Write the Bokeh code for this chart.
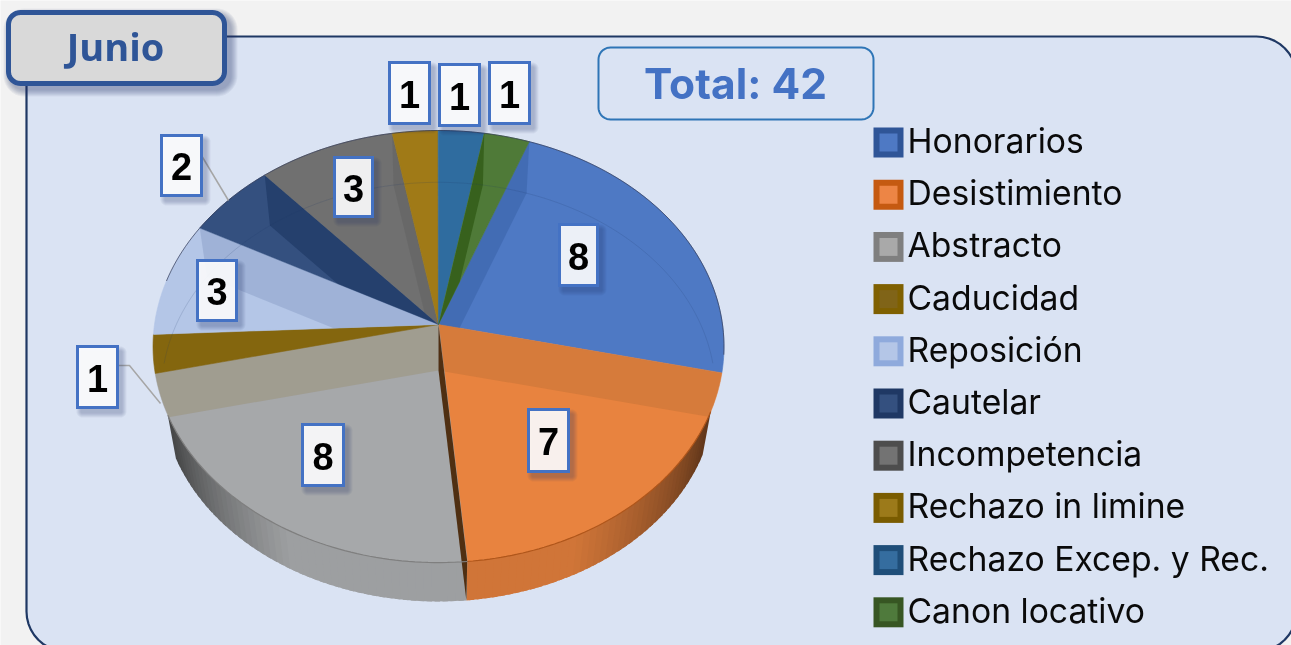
import math
from bokeh.plotting import figure
from bokeh.embed import file_html
from bokeh.resources import INLINE
from bokeh.core.properties import value

# ---- data ----
title = "Junio"
total_label = "Total: 42"
categories = ["Honorarios", "Desistimiento", "Abstracto", "Caducidad", "Reposición",
              "Cautelar", "Incompetencia", "Rechazo in limine", "Rechazo Excep. y Rec.", "Canon locativo"]
values = [8, 7, 8, 1, 3, 2, 3, 1, 1, 1]

# ---- styles ----
top_colors = ["#4e79c4", "#e8833f", "#a6a8aa", "#856610", "#b4c6e7",
              "#34507f", "#707070", "#a07a17", "#2f6c9f", "#4f7a38"]
legend_outer = ["#2f5597", "#c55a11", "#7f7f7f", "#7f6000", "#8faadc",
                "#1f3864", "#4d4d4d", "#7a5c00", "#1f4e79", "#375623"]
legend_inner = ["#4e79c4", "#ed8545", "#a9a9a9", "#806418", "#b4c6e7",
                "#34507f", "#737373", "#9c7a1a", "#356d9f", "#4f7a3c"]
band_color = ["#2f5597", "#a0622e", "#4f2f12", "#7f6000", "#7f6000",
              "#7f93bd", "#16305c", "#4d4d4d", "#1f4e79", "#2f5a14"]
band_alpha = [0.35, 0.25, 1.0, 0.15, 0.08, 0.38, 0.5, 0.2, 0.2, 0.75]
label_boxes = [(559, 224, 597, 285), (528, 409, 568, 471), (302, 424, 343, 485), (77, 346, 117, 407),
               (197, 260, 236, 320), (161, 135, 201, 195), (334, 157, 372, 216),
               (389, 62, 429, 123), (439, 64, 479, 125), (489, 62, 529, 123)]

W, H = 1291, 645
p = figure(width=W, height=H, x_range=(0, W), y_range=(H, 0), toolbar_location=None,
           output_backend="svg", min_border=0, outline_line_color=None,
           background_fill_color="#f2f2f2", border_fill_color="#f2f2f2")
p.axis.visible = False
p.grid.visible = False
p.styles = {"position": "fixed", "left": "0", "top": "0"}


def rounded(x0, y0, x1, y1, r, n=10):
    xs, ys = [], []
    corners = [(x1 - r, y0 + r, -90), (x1 - r, y1 - r, 0), (x0 + r, y1 - r, 90), (x0 + r, y0 + r, 180)]
    for cx, cy, st in corners:
        for i in range(n + 1):
            t = math.radians(st + 90 * i / n)
            xs.append(cx + r * math.cos(t))
            ys.append(cy + r * math.sin(t))
    return xs, ys


def shadow(x0, y0, x1, y1, r, dx=4, dy=5, spread=6, alpha=0.05):
    for s in range(spread, 0, -1):
        xs, ys = rounded(x0 + dx - s, y0 + dy - s, x1 + dx + s, y1 + dy + s, r + s)
        p.patch(xs, ys, fill_color="#1f3864", fill_alpha=alpha, line_color=None)


def clip(poly, region):
    """Clip polygon to a convex region (Sutherland-Hodgman)."""
    area = sum(region[i][0] * region[(i + 1) % len(region)][1] - region[(i + 1) % len(region)][0] * region[i][1]
               for i in range(len(region)))
    sign = 1 if area > 0 else -1
    out = poly
    for i in range(len(region)):
        ax, ay = region[i]
        bx, by = region[(i + 1) % len(region)]
        if abs(ax - bx) + abs(ay - by) < 1e-9:
            continue
        side = lambda q: sign * ((bx - ax) * (q[1] - ay) - (by - ay) * (q[0] - ax))
        res = []
        for j in range(len(out)):
            c, d = out[j], out[(j + 1) % len(out)]
            sc, sd = side(c), side(d)
            if sc >= 0:
                res.append(c)
            if sc * sd < 0:
                f = sc / (sc - sd)
                res.append((c[0] + (d[0] - c[0]) * f, c[1] + (d[1] - c[1]) * f))
        out = res
        if not out:
            break
    return out


# panel
xs, ys = rounded(26, 36, 1296, 651, 40)
p.patch(xs, ys, fill_color="#dae3f3", line_color="#1f3864", line_width=2.2)

# tab
shadow(6, 11, 226, 85, 14, dx=4, dy=4, spread=7, alpha=0.06)
xs, ys = rounded(8, 12, 224, 83, 12)
p.patch(xs, ys, fill_color="#d9d9d9", line_color="#2f5597", line_width=5)
p.text([115], [45], text=[title], text_font=value("Open Sans"), text_font_style="bold", text_font_size="38px",
       text_color="#2f5597", text_align="center", text_baseline="middle")

# total box
xs, ys = rounded(598, 47, 873, 119, 12)
p.patch(xs, ys, fill_color=None, line_color="#2e75b6", line_width=2)
p.text([735], [83], text=[total_label], text_font=value("Inter"), text_font_style="bold", text_font_size="42.5px",
       text_color="#4472c4", text_align="center", text_baseline="middle")

# pie geometry (perspective ellipse about apex)
APX, APY = 438, 324
A, B, K = 284.0, 213.8, 0.102
DEPTH, SHRINK = 46.0, 0.97
START = 20.5


def proj(deg, bottom=False):
    t = math.radians(deg)
    u, v = math.sin(t), math.cos(t)
    w = 1 + K * v
    s = SHRINK if bottom else 1.0
    d = DEPTH if bottom else 0.0
    return APX + s * A * u / w, APY + d - s * B * v / w


def shade(col, f):
    r, g, b = (int(col[i:i + 2], 16) for i in (1, 3, 5))
    return "#%02x%02x%02x" % (min(255, int(r * f)), min(255, int(g * f)), min(255, int(b * f)))


tot = sum(values)
edges = [START]
for val in values:
    edges.append(edges[-1] + 360.0 * val / tot)

# top faces
faces = []
for i in range(len(values)):
    a0, a1 = edges[i], edges[i + 1]
    n = max(4, int(a1 - a0))
    pts = [proj(a0 + (a1 - a0) * j / n) for j in range(n + 1)]
    faces.append([(APX, APY)] + pts)
    p.patch([APX] + [q[0] for q in pts], [APY] + [q[1] for q in pts],
            fill_color=top_colors[i], line_color=top_colors[i], line_width=0.6)

# radial walls seen through the faces, each one inside the face it falls on
front = []
for k in range(len(values)):
    a = edges[k] % 360
    if 150 < a < 210:
        front.append(k)
        continue
    t = proj(a)
    b = proj(a, True)
    owner = k if a < 180 else (k - 1) % len(values)
    quad = clip([(APX, APY), t, b, (APX, APY + DEPTH)], faces[owner])
    if quad:
        p.patch([q[0] for q in quad], [q[1] for q in quad],
                fill_color=band_color[k], fill_alpha=band_alpha[k], line_color=None)

# back of the lower rim, seen through
back = [proj(-88 + j * 176 / 120, True) for j in range(121)]
p.line([q[0] for q in back], [q[1] for q in back], line_color="#1f3864", line_alpha=0.2, line_width=0.8)

# side wall
WALL0, WALL1 = 113.0, 246.0
for i in (1, 2):
    a0 = max(edges[i], WALL0)
    a1 = min(edges[i + 1], WALL1)
    n = int((a1 - a0) / 1.5) + 1
    for j in range(n - 1, -1, -1) if i == 1 else range(n):
        b0 = a0 + (a1 - a0) * j / n
        b1 = a0 + (a1 - a0) * (j + 1) / n
        mid = (b0 + b1) / 2
        if i == 1:
            f = 0.42 + 0.48 * min(1, (mid - WALL0) / 40)
            b1 = min(b1 + 1.0, a1)
        else:
            f = 0.42 + 0.53 * min(1, (WALL1 - mid) / 36)
            b0 = max(b0 - 1.0, a0)
        c = shade(top_colors[i], f)
        t0, t1, u1, u0 = proj(b0), proj(b1), proj(b1, True), proj(b0, True)
        p.patch([t0[0], t1[0], u1[0], u0[0]], [t0[1], t1[1], u1[1], u0[1]],
                fill_color=c, line_color=None)

# front radial wall
for k in front:
    a = edges[k]
    t, b = proj(a), proj(a, True)
    p.patch([APX, t[0], b[0], APX], [APY, t[1], b[1], APY + DEPTH],
            fill_color=band_color[k], fill_alpha=band_alpha[k], line_color=None)

# rims
arc = [proj(-78 + j * 176 / 120) for j in range(121)]
p.line([q[0] for q in arc], [q[1] for q in arc], line_color="#333a55", line_alpha=0.7, line_width=1)
arc = [proj(WALL0 + j * (edges[2] - WALL0) / 60) for j in range(61)]
p.line([q[0] for q in arc], [q[1] for q in arc], line_color="#b0561a", line_width=1.2)
arc = [proj(edges[2] + j * (WALL1 - edges[2]) / 60) for j in range(61)]
p.line([q[0] for q in arc], [q[1] for q in arc], line_color="#7f7f7f", line_width=1.2)

# leader lines
p.line([201, 228], [155, 200], line_color="#a6a6a6", line_width=1.5)
p.line([117, 129, 160], [365, 365, 403], line_color="#a6a6a6", line_width=1.5)

# data labels
for val, (x0, y0, x1, y1) in zip(values, label_boxes):
    shadow(x0, y0, x1, y1, 1, dx=4, dy=5, spread=5, alpha=0.06)
    xs, ys = rounded(x0, y0, x1, y1, 0, n=1)
    p.patch(xs, ys, fill_color="#ffffff", fill_alpha=0.9, line_color="#4472c4", line_width=3,
            line_join="miter")
    p.text([(x0 + x1) / 2], [(y0 + y1) / 2 + 1], text=[str(val)], text_font=value("Liberation Sans"),
           text_font_style="bold", text_font_size="38px", text_color="#000000",
           text_align="center", text_baseline="middle")

# legend
for i, name in enumerate(categories):
    y = 142 + i * 52.2
    p.quad(left=[873], right=[903], top=[y - 15], bottom=[y + 15], fill_color=legend_outer[i], line_color=None)
    p.quad(left=[879], right=[897], top=[y - 9], bottom=[y + 9], fill_color=legend_inner[i], line_color=None)
    p.text([907], [y - 2], text=[name], text_font=value("Inter"), text_font_size="33.7px",
           text_color="#0a0a0a", text_align="left", text_baseline="middle")

open("out.html", "w").write(file_html(p, INLINE))
